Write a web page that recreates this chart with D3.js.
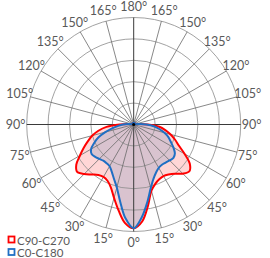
<!DOCTYPE html>
<html><head><meta charset="utf-8">
<script src="https://cdn.jsdelivr.net/npm/d3@7"></script>
<style>html,body{margin:0;padding:0;background:#fff;}svg{display:block;}</style>
</head><body>
<svg id="chart" width="270" height="258"></svg>
<script>
// gamma angles (degrees from nadir) for the photometric curves
const gammas = [0,5,10,15,20,25,30,35,40,45,50,55,60,65,70,75,80,85,90,95,100,110,120,130,140,150,160,170,180];
// relative intensity (%) per half-plane
const c90  = [97,91,77,64,59,56.5,55.6,57,60,65,68,64,55,46.5,41,35.5,30,24,13,5,2,1.5,1.5,1.5,1.5,1.5,1.5,1.5,1.5];
const c270 = [97,92.5,81.5,71,62.5,58,56.5,57.5,61,65.5,69,65.5,58,51.5,45.5,40,33.5,25.5,13,5,2,1.5,1.5,1.5,1.5,1.5,1.5,1.5,1.5];
const c0   = [97,87,73.5,61.5,54,49.5,46.7,46,46.5,47.5,48.5,47,42.8,38.2,34.5,29.8,24.3,19,12,5,2,1.5,1.5,1.5,1.5,1.5,1.5,1.5,1.5];
const c180 = [97,88,73,61,54,48.6,45,44.2,44.2,45.5,47,48,46,40.8,35,27.5,20.5,14.5,10,5,2,1.5,1.5,1.5,1.5,1.5,1.5,1.5,1.5];
const seriesNames = ["C90-C270","C0-C180"];
const gridLevels = [20,40,60,80,100];
const tickAngles = [0,15,30,45,60,75,90,105,120,135,150,165,180];

const cx = 133.7, cy = 124.5, R = 107;
const svg = d3.select("#chart");
const g = svg.append("g").attr("transform", `translate(${cx},${cy})`);
const r = d3.scaleLinear().domain([0,100]).range([0,R]);
const rad = d => d*Math.PI/180;

function closedPoints(right, left){
  const pts = [];
  gammas.forEach((gm,i)=>{ pts.push([Math.PI - rad(gm), r(right[i])]); });
  for(let i=gammas.length-2;i>=1;i--){ pts.push([Math.PI + rad(gammas[i]), r(left[i])]); }
  return pts;
}
const line = d3.lineRadial().angle(d=>d[0]).radius(d=>d[1]).curve(d3.curveCatmullRomClosed.alpha(0.5));

const redPts = closedPoints(c90, c270);
const bluePts = closedPoints(c0, c180);

g.append("path").attr("d", line(redPts)).attr("fill","rgba(255,0,0,0.16)").attr("stroke","none");
g.append("path").attr("d", line(bluePts)).attr("fill","rgba(0,90,170,0.15)").attr("stroke","none");

// grid circles
g.selectAll("circle.grid").data(gridLevels).enter().append("circle")
  .attr("r", d=>r(d)).attr("fill","none").attr("stroke","#8a8a8a").attr("stroke-width",0.8);
// radial lines
const spokes = d3.range(0,360,15);
g.selectAll("line.spoke").data(spokes).enter().append("line")
  .attr("x1",0).attr("y1",0)
  .attr("x2", d=>r(100)*Math.sin(rad(d)))
  .attr("y2", d=>r(100)*Math.cos(rad(d)))
  .attr("stroke", d=> (d%90===0)?"#3a3a3a":"#6a6a6a")
  .attr("stroke-width", d=> (d%90===0)?1:0.8);

g.append("path").attr("d", line(redPts)).attr("fill","none").attr("stroke","#ff0000").attr("stroke-width",2);
g.append("path").attr("d", line(bluePts)).attr("fill","none").attr("stroke","#1f6fc4").attr("stroke-width",2);
g.append("circle").attr("r",1.6).attr("fill","#000");

// angle labels
const labels = [];
tickAngles.forEach(a=>{
  labels.push({a:a, side:1});
  if(a!==0 && a!==180) labels.push({a:a, side:-1});
});
const LD = R + 11;
g.selectAll("text.lbl").data(labels).enter().append("text")
  .attr("x", d=> d.side*LD*Math.sin(rad(d.a)))
  .attr("y", d=> LD*Math.cos(rad(d.a)))
  .attr("text-anchor","middle").attr("dominant-baseline","central")
  .attr("font-family","Lato, 'Open Sans', sans-serif").attr("font-size",12.5)
  .attr("fill","#595959")
  .text(d=> d.a + "\u00B0");

// legend
const colors = ["#ff0000","#1f6fc4"];
const leg = svg.append("g");
seriesNames.forEach((n,i)=>{
  const y = 240 + i*12.5;
  leg.append("rect").attr("x",8.5).attr("y",y-3.5).attr("width",6).attr("height",6)
    .attr("fill","#fff").attr("stroke",colors[i]).attr("stroke-width",1.8);
  leg.append("text").attr("x",17).attr("y",y).attr("dominant-baseline","central")
    .attr("font-family","Lato, 'Open Sans', sans-serif").attr("font-size",11.5)
    .attr("fill","#595959").text(n);
});
</script>
</body></html>
